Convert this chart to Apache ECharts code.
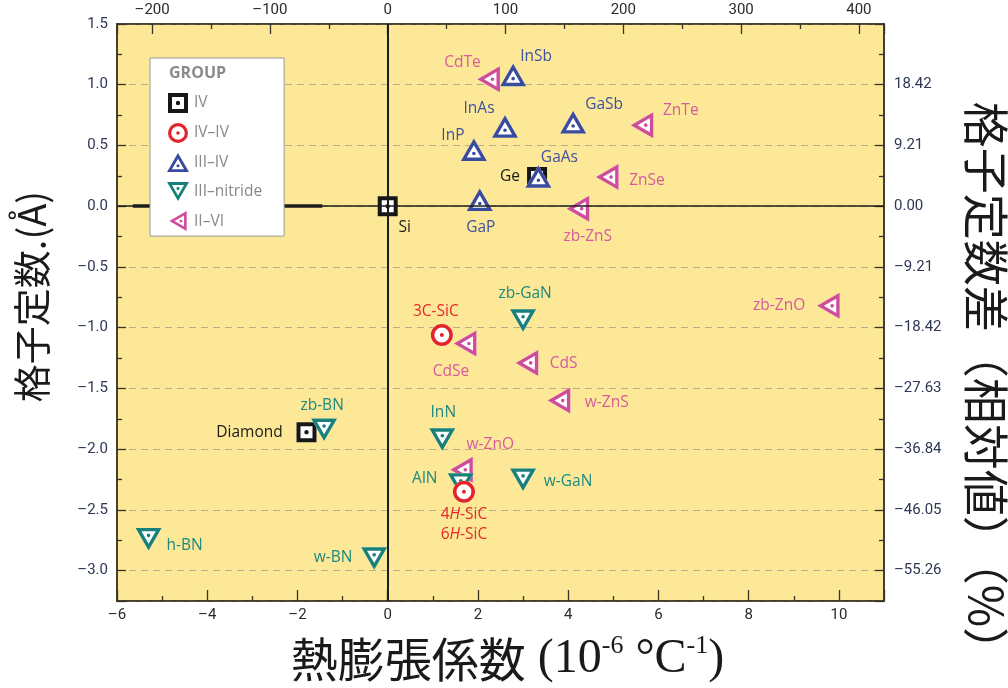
<!DOCTYPE html>
<html>
<head>
<meta charset="utf-8">
<script src="https://cdn.jsdelivr.net/npm/echarts@6/dist/echarts.min.js"></script>
<style>
  html, body { margin: 0; padding: 0; background: #ffffff; }
  #chart { width: 1008px; height: 688px; }
</style>
</head>
<body>
<div id="chart"></div>
<script>
// Semiconductor materials: thermal expansion coefficient (10^-6 /°C) vs. lattice constant offset (Å)
const groupNames = ['IV', 'IV–IV', 'III–IV', 'III–nitride', 'II–VI'];

const ivMaterials = ['Si', 'Ge', 'Diamond'];
const ivCte = [0, 3.31, -1.80];
const ivLattice = [0, 0.24, -1.86];

const ivIvMaterials = ['3C-SiC', '4H-SiC\n6H-SiC'];
const ivIvCte = [1.20, 1.69];
const ivIvLattice = [-1.06, -2.35];

const iiiIvMaterials = ['InSb', 'InAs', 'GaSb', 'InP', 'GaAs', 'GaP'];
const iiiIvCte = [2.78, 2.60, 4.11, 1.91, 3.34, 2.04];
const iiiIvLattice = [1.05, 0.625, 0.66, 0.434, 0.214, 0.022];

const nitrideMaterials = ['zb-GaN', 'zb-BN', 'InN', 'AlN', 'w-GaN', 'w-BN', 'h-BN'];
const nitrideCte = [3.00, -1.41, 1.21, 1.62, 3.00, -0.30, -5.30];
const nitrideLattice = [-0.91, -1.81, -1.89, -2.26, -2.22, -2.87, -2.71];

const iiViMaterials = ['CdTe', 'ZnTe', 'ZnSe', 'zb-ZnS', 'zb-ZnO', 'CdSe', 'CdS', 'w-ZnS', 'w-ZnO'];
const iiViCte = [2.32, 5.72, 4.95, 4.30, 9.85, 1.80, 3.17, 3.88, 1.72];
const iiViLattice = [1.045, 0.667, 0.24, -0.02, -0.82, -1.13, -1.29, -1.60, -2.17];

// Axis ranges and the secondary scales
const cteRange = [-6, 11];
const latticeRange = [-3.25, 1.5];
const topPerCteUnit = 38.3;          // top axis units per 10^-6 /°C
const rightTickValues = [1.0, 0.5, 0, -0.5, -1.0, -1.5, -2.0, -2.5, -3.0];
const rightTickLabels = ['18.42', '9.21', '0.00', '–9.21', '–18.42', '–27.63', '–36.84', '–46.05', '–55.26'];
const heavyZeroSegment = [-5.65, -1.45];

// Label placement (pixel offsets from each marker centre)
const ivLabelOffsets = [[17, 21], [-27, 0], [-57, 0]];
const ivIvLabelOffsets = [[-6, -23], [0, 33]];
const iiiIvLabelOffsets = [[23, -22], [-26, -22], [31, -21], [-21, -18], [21, -23], [1, 24]];
const nitrideLabelOffsets = [[2, -23], [-2, -20], [1, -23], [-36, -2], [45, 6], [-41, 3], [36, 10]];
const iiViLabelOffsets = [[-30, -17], [35, -15], [36, 4], [6, 28], [-53, 0], [-18, 28], [33, 1], [44, 2], [25, -25]];

// ---- marker shapes: ring + centre dot, filled with the group colour ----
function circlePath(cx, cy, r, ccw) {
  const s = ccw ? 0 : 1;
  return `M${cx + r} ${cy} A${r} ${r} 0 1 ${s} ${cx - r} ${cy} A${r} ${r} 0 1 ${s} ${cx + r} ${cy} Z`;
}
const shapes = {
  square: { outer: 'M0 0 L100 0 L100 100 L0 100 Z', inner: 'M20 20 L20 80 L80 80 L80 20 Z',
            dot: circlePath(50, 50, 11, false), ext: '', size: [20, 20] },
  circle: { outer: circlePath(50, 50, 50, false), inner: circlePath(50, 50, 34, true),
            dot: circlePath(50, 50, 9, false), ext: '', size: [22, 22] },
  up:     { outer: 'M50 0 L100 86.6 L0 86.6 Z', inner: 'M50 26 L22.5 73.6 L77.5 73.6 Z',
            dot: circlePath(50, 57.74, 7, false), ext: 'M50 115.47 L50.01 115.47', size: [26, 30] },
  down:   { outer: 'M0 0 L100 0 L50 86.6 Z', inner: 'M22.5 13 L50 60.6 L77.5 13 Z',
            dot: circlePath(50, 28.87, 7, false), ext: 'M50 -28.87 L50.01 -28.87', size: [26, 30] },
  left:   { outer: 'M0 50 L86.6 0 L86.6 100 Z', inner: 'M26 50 L73.6 77.5 L73.6 22.5 Z',
            dot: circlePath(57.74, 50, 7, false), ext: 'M115.47 50 L115.47 50.01', size: [30, 26] }
};
const ringPath = s => 'path://' + [s.outer, s.inner, s.dot, s.ext].join(' ');
const fillPath = s => 'path://' + [s.outer, s.ext].join(' ');
const iconPath = s => 'path://' + [s.outer, s.inner, s.dot].join(' ');

const groups = {
  'IV':          { names: ivMaterials, x: ivCte, y: ivLattice, offsets: ivLabelOffsets,
                   shape: 'square', color: '#161616', text: '#1a1a1a' },
  'IV–IV':       { names: ivIvMaterials, x: ivIvCte, y: ivIvLattice, offsets: ivIvLabelOffsets,
                   shape: 'circle', color: '#e3252b', text: '#e8262b' },
  'III–IV':      { names: iiiIvMaterials, x: iiiIvCte, y: iiiIvLattice, offsets: iiiIvLabelOffsets,
                   shape: 'up', color: '#3a4b9e', text: '#3f51a2' },
  'III–nitride': { names: nitrideMaterials, x: nitrideCte, y: nitrideLattice, offsets: nitrideLabelOffsets,
                   shape: 'down', color: '#17807a', text: '#1e8980' },
  'II–VI':       { names: iiViMaterials, x: iiViCte, y: iiViLattice, offsets: iiViLabelOffsets,
                   shape: 'left', color: '#cf4c9b', text: '#d65a9f' }
};
const drawOrder = ['IV', 'II–VI', 'III–nitride', 'IV–IV', 'III–IV'];

const frame = '#3a3424';
const labelFont = 'Open Sans';
const tickFont = 'Liberation Sans Narrow, Roboto, sans-serif';
const cjkFont = 'Noto Sans CJK JP';
const serifFont = 'Liberation Serif';
const dash = s => String(s).replace('-', '–');

const series = [];
drawOrder.forEach((g, gi) => {
  const grp = groups[g];
  const shp = shapes[grp.shape];
  const pts = grp.names.map((n, i) => [grp.x[i], grp.y[i]]);
  // white interior under each marker
  const under = {
    type: 'scatter', name: g + ' fill', silent: true, animation: false,
    symbol: fillPath(shp), symbolSize: shp.size,
    itemStyle: { color: '#ffffff', opacity: 1 },
    emphasis: { disabled: true },
    data: pts
  };
  if (gi === 0) {
    under.markLine = {
      silent: true, symbol: 'none', animation: false, label: { show: false },
      emphasis: { disabled: true },
      data: [
        { yAxis: 0, lineStyle: { color: '#1c1c1c', width: 1.6, type: 'solid' } },
        { xAxis: 0, lineStyle: { color: '#1c1c1c', width: 2, type: 'solid' } },
        [{ coord: [heavyZeroSegment[0], 0], lineStyle: { color: '#1c1c1c', width: 3.5, type: 'solid' } },
         { coord: [heavyZeroSegment[1], 0] }]
      ]
    };
  }
  series.push(under);
  series.push({
    type: 'scatter', name: g, silent: true, animation: false,
    symbol: ringPath(shp), symbolSize: shp.size,
    itemStyle: { color: grp.color, opacity: 1 },
    emphasis: { disabled: true },
    label: {
      show: true, position: 'inside', color: grp.text, fontSize: 15.5, fontFamily: labelFont,
      align: 'center', verticalAlign: 'middle', lineHeight: 20,
      formatter: p => p.name.replace(/(\d)H-/g, '$1{i|H}-'),
      rich: { i: { fontStyle: 'italic', color: grp.text, fontSize: 15.5, fontFamily: labelFont, lineHeight: 20 } }
    },
    data: grp.names.map((n, i) => ({ name: n, value: pts[i], label: { offset: grp.offsets[i] } }))
  });
});

const chart = echarts.init(document.getElementById('chart'));
chart.setOption({
  backgroundColor: '#ffffff',
  animation: false,
  textStyle: { fontFamily: labelFont },
  grid: { left: 117, right: 124, top: 24, bottom: 87, show: true, backgroundColor: '#fce896',
          borderColor: frame, borderWidth: 1.5, containLabel: false, outerBoundsMode: 'none' },
  legend: {
    data: groupNames.map(g => ({ name: g, icon: iconPath(shapes[groups[g].shape]) })),
    orient: 'vertical', left: 150, top: 58, itemWidth: 22, itemHeight: 20, itemGap: 10,
    padding: [35, 22, 5, 17], backgroundColor: '#ffffff', borderColor: '#9a9a9a', borderWidth: 1,
    textStyle: { color: '#888888', fontSize: 15.5, fontFamily: labelFont },
    selectedMode: false, z: 10
  },
  graphic: [{
    type: 'text', left: 169, top: 65, z: 100,
    style: { text: 'GROUP', fill: '#8a8a8a', font: 'bold 16px "Open Sans", sans-serif' }
  }],
  xAxis: [
    {
      type: 'value', position: 'bottom', min: cteRange[0], max: cteRange[1], interval: 2,
      axisLine: { show: true, onZero: false, lineStyle: { color: frame, width: 1.5 } },
      axisTick: { show: true, inside: true, length: 11, lineStyle: { color: frame, width: 1.3 } },
      minorTick: { show: true, splitNumber: 2, length: 5, lineStyle: { color: frame, width: 1.3 } },
      splitLine: { show: false },
      axisLabel: { color: '#2a2a2a', fontSize: 15, fontFamily: tickFont, margin: 7,
                   formatter: v => (v === cteRange[1] ? '' : dash(v)) },
      name: '{a|熱膨張係数}{b| (10}{s|-6}{b| °C}{s|-1}{b|)}',
      nameLocation: 'middle', nameGap: 32,
      nameTextStyle: {
        padding: [0, 0, 0, 14],
        rich: {
          a: { fontFamily: cjkFont, fontSize: 47, color: '#1a1a1a', lineHeight: 52 },
          b: { fontFamily: serifFont, fontSize: 48, color: '#1a1a1a', lineHeight: 52 },
          s: { fontFamily: serifFont, fontSize: 26, color: '#1a1a1a', lineHeight: 28, verticalAlign: 'top' }
        }
      }
    },
    {
      type: 'value', position: 'top', min: cteRange[0] * topPerCteUnit, max: cteRange[1] * topPerCteUnit,
      axisLine: { show: true, onZero: false, lineStyle: { color: frame, width: 1.5 } },
      axisTick: { show: true, inside: true, length: 10, lineStyle: { color: frame, width: 1.3 } },
      minorTick: { show: true, splitNumber: 2, length: 5, lineStyle: { color: frame, width: 1.3 } },
      splitLine: { show: false },
      axisLabel: { color: '#2a2a2a', fontSize: 15, fontFamily: tickFont, margin: 6,
                   formatter: v => (Math.abs(v / 100 - Math.round(v / 100)) < 1e-6 ? dash(Math.round(v)) : '') }
    }
  ],
  yAxis: [
    {
      type: 'value', position: 'left', min: latticeRange[0], max: latticeRange[1], splitNumber: 9,
      axisLine: { show: true, onZero: false, lineStyle: { color: frame, width: 1.5 } },
      axisTick: { show: true, inside: true, length: 9, lineStyle: { color: frame, width: 1.3 } },
      minorTick: { show: true, splitNumber: 2, length: 5, lineStyle: { color: frame, width: 1.3 } },
      splitLine: { show: true, lineStyle: { color: '#b8ae8e', width: 1.2, type: [7, 5] } },
      axisLabel: { color: '#2e3754', fontSize: 15, fontFamily: tickFont, margin: 9,
                   formatter: v => (Math.abs(v * 2 - Math.round(v * 2)) < 1e-6 ? dash(v.toFixed(1)) : '') },
      name: '格子定数.(Å)', nameLocation: 'middle', nameRotate: 90, nameGap: 66,
      nameTextStyle: { fontFamily: cjkFont, fontSize: 38, color: '#1a1a1a', padding: [0, 0, 0, 32] }
    },
    {
      type: 'value', position: 'right', min: latticeRange[0], max: latticeRange[1], splitNumber: 9,
      axisLine: { show: true, onZero: false, lineStyle: { color: frame, width: 1.5 } },
      axisTick: { show: true, inside: true, length: 9, lineStyle: { color: frame, width: 1.3 } },
      minorTick: { show: true, splitNumber: 2, length: 5, lineStyle: { color: frame, width: 1.3 } },
      splitLine: { show: false },
      axisLabel: { color: '#2e3754', fontSize: 15, fontFamily: tickFont, margin: 10,
                   formatter: v => {
                     const k = rightTickValues.findIndex(t => Math.abs(t - v) < 1e-6);
                     return k < 0 ? '' : rightTickLabels[k];
                   } },
      name: '格子定数差（相対値）（%）', nameLocation: 'middle', nameRotate: -90, nameGap: 79,
      nameTextStyle: { fontFamily: cjkFont, fontSize: 46, color: '#1a1a1a', padding: [0, 0, 0, 150] }
    }
  ],
  series: series
});
</script>
</body>
</html>
